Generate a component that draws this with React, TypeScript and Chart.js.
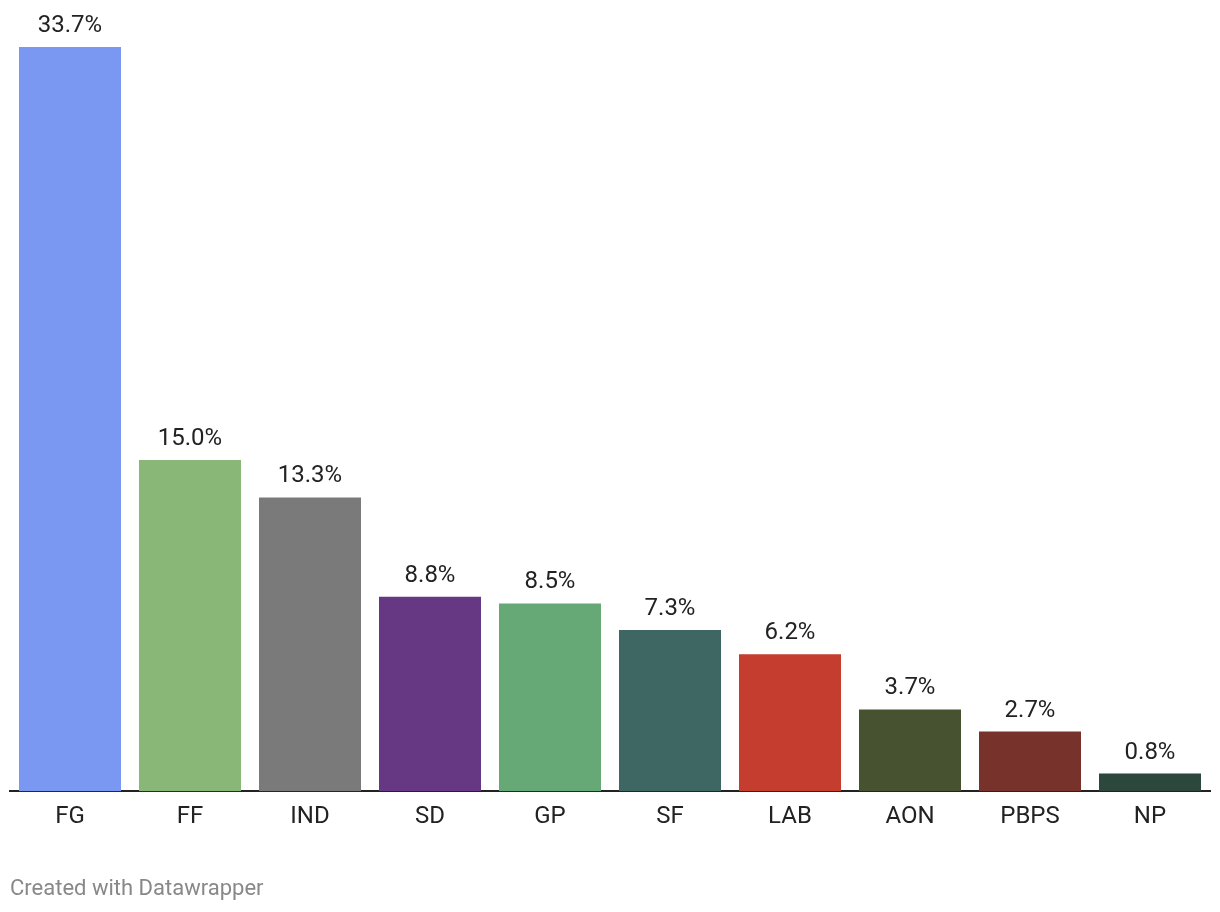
import React, { useEffect, useRef } from "react";
import { Chart, registerables } from "chart.js";

Chart.register(...registerables);

const categories = ["FG", "FF", "IND", "SD", "GP", "SF", "LAB", "AON", "PBPS", "NP"];
const values = [33.7, 15.0, 13.3, 8.8, 8.5, 7.3, 6.2, 3.7, 2.7, 0.8];
const colors = ["#7a98f1", "#89b777", "#7a7a7a", "#663783", "#67a877", "#3e6764", "#c43d2e", "#475230", "#78322c", "#2c473b"];

const valueLabels = {
  id: "valueLabels",
  afterDatasetsDraw(chart: any) {
    const ctx = chart.ctx;
    const meta = chart.getDatasetMeta(0);
    ctx.save();
    ctx.font = "24px Roboto";
    ctx.fillStyle = "#222";
    ctx.textAlign = "center";
    ctx.textBaseline = "alphabetic";
    meta.data.forEach((bar: any, i: number) => {
      ctx.fillText(values[i].toFixed(1) + "%", bar.x, bar.y - 15);
    });
    ctx.restore();
  },
};

export default function App() {
  const ref = useRef<HTMLCanvasElement>(null);
  useEffect(() => {
    const chart = new Chart(ref.current!, {
      type: "bar",
      data: {
        labels: categories,
        datasets: [{ data: values, backgroundColor: colors, barPercentage: 0.85, categoryPercentage: 1 }],
      },
      options: {
        animation: false,
        responsive: false,
        layout: { padding: { top: 47, left: 10, right: 10, bottom: 70 } },
        plugins: { legend: { display: false }, tooltip: { enabled: false } },
        scales: {
          x: {
            grid: { display: false, drawTicks: false },
            border: { display: true, color: "#222", width: 2 },
            ticks: { font: { family: "Roboto", size: 24 }, color: "#222", padding: 11 },
          },
          y: { display: false, min: 0, max: 33.7 },
        },
      },
      plugins: [valueLabels],
    });
    return () => chart.destroy();
  }, []);
  return (
    <div style={{ position: "fixed", left: 0, top: 0, width: 1220, height: 912, background: "#fff" }}>
      <canvas ref={ref} width={1220} height={912} style={{ display: "block" }} />
      <div
        style={{
          position: "absolute",
          left: 10,
          top: 875,
          fontFamily: "Roboto",
          fontSize: 22,
          color: "#888",
          lineHeight: "26px",
          whiteSpace: "nowrap",
        }}
      >
        Created with Datawrapper
      </div>
    </div>
  );
}
